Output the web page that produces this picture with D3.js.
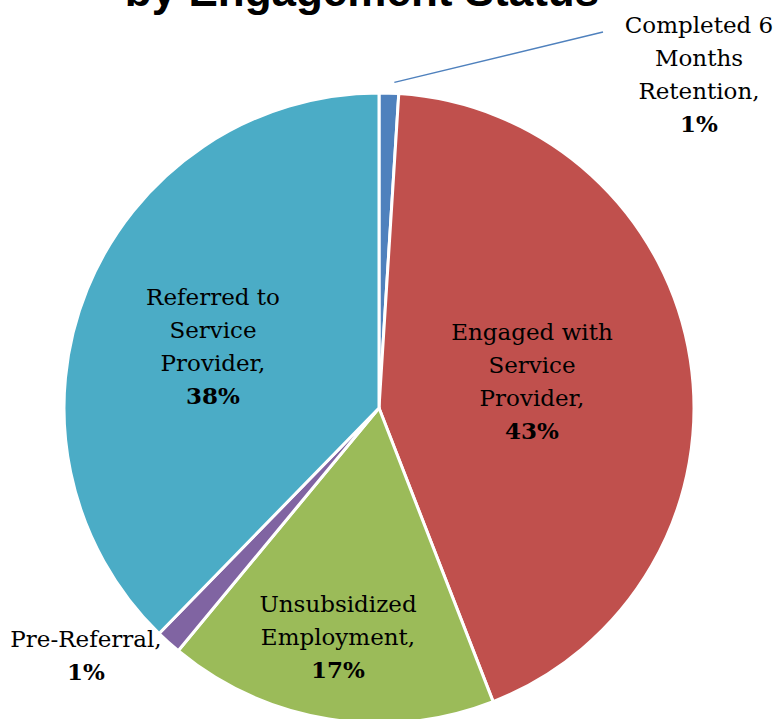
<!DOCTYPE html>
<html>
<head>
<meta charset="utf-8">
<script src="https://cdn.jsdelivr.net/npm/d3@7"></script>
<style>
  html, body { margin: 0; padding: 0; background: #ffffff; }
  svg { display: block; }
</style>
</head>
<body>
<div class="container_graph"></div>
<script>
// datos del grafico
const categories = [
  "Completed 6 Months Retention",
  "Engaged with Service Provider",
  "Unsubsidized Employment",
  "Pre-Referral",
  "Referred to Service Provider"
];
const values = [1.0, 43.1, 16.9, 1.3, 37.7];
const pctLabels = ["1%", "43%", "17%", "1%", "38%"];
const labelLines = [
  ["Completed 6", "Months", "Retention,"],
  ["Engaged with", "Service", "Provider,"],
  ["Unsubsidized", "Employment,"],
  ["Pre-Referral,"],
  ["Referred to", "Service", "Provider,"]
];
const colors = ["#4f81bd", "#c0504d", "#9bbb59", "#8064a2", "#4bacc6"];
const titleText = "by Engagement Status";

// medidas
const width = 778;
const height = 719;
const cx = 379;
const cy = 408;
const radius = 315;
const lineHeight = 33;

// posicion de las etiquetas (centro x, primera linea base)
const labelPos = [
  [699, 33],
  [532, 340],
  [338, 612],
  [86, 647],
  [213, 305]
];

const svg = d3
  .select(".container_graph")
  .append("svg")
  .attr("width", width)
  .attr("height", height)
  .attr("viewBox", [0, 0, width, height]);

// titulo (cortado arriba)
svg
  .append("text")
  .attr("x", 362)
  .attr("y", 6)
  .attr("text-anchor", "middle")
  .style("font-family", "'Liberation Sans', Arial, sans-serif")
  .style("font-weight", "bold")
  .style("font-size", "44px")
  .attr("fill", "#000")
  .text(titleText);

const pie = d3.pie().sort(null).value((d) => d);
const arcs = pie(values);
const arc = d3.arc().innerRadius(0).outerRadius(radius);

const g = svg.append("g").attr("transform", `translate(${cx},${cy})`);

g.selectAll("path")
  .data(arcs)
  .join("path")
  .attr("d", arc)
  .attr("fill", (d, i) => colors[i])
  .attr("stroke", "#fff")
  .attr("stroke-width", 3)
  .attr("stroke-linejoin", "round");

// linea guia para la etiqueta pequena
const a0 = arcs[0];
const ang = a0.startAngle + (a0.endAngle - a0.startAngle) * 0.75;
const p0 = [Math.sin(ang) * (radius + 11) + cx, -Math.cos(ang) * (radius + 11) + cy];
svg
  .append("line")
  .attr("x1", p0[0])
  .attr("y1", p0[1])
  .attr("x2", 603)
  .attr("y2", 32)
  .attr("stroke", colors[0])
  .attr("stroke-width", 1.5);

// etiquetas
const labels = svg
  .selectAll("text.lbl")
  .data(arcs)
  .join("text")
  .attr("class", "lbl")
  .attr("text-anchor", "middle")
  .style("font-family", "'DejaVu Serif', serif")
  .style("font-size", "23px")
  .attr("fill", "#000");

labels.each(function (d, i) {
  const t = d3.select(this);
  const [x, y] = labelPos[i];
  const lines = labelLines[i];
  lines.forEach((ln, j) => {
    t.append("tspan").attr("x", x).attr("y", y + j * lineHeight).text(ln);
  });
  t.append("tspan")
    .attr("x", x)
    .attr("y", y + lines.length * lineHeight)
    .style("font-weight", "bold")
    .text(pctLabels[i]);
});
</script>
</body>
</html>
